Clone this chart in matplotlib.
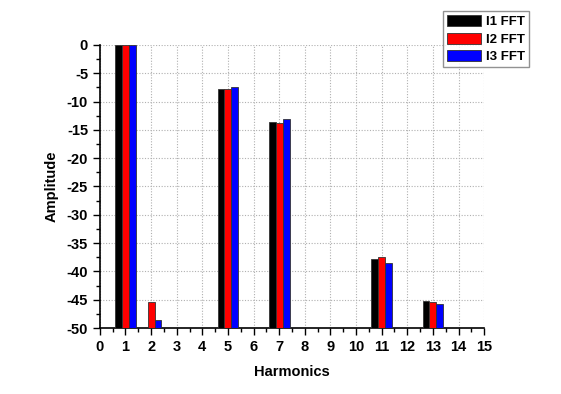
import numpy as np
import matplotlib
matplotlib.use('Agg')
import matplotlib.pyplot as plt
from matplotlib.ticker import MultipleLocator

plt.rcParams['font.family'] = ['Liberation Sans', 'DejaVu Sans']
plt.rcParams['font.weight'] = 'bold'
plt.rcParams['axes.unicode_minus'] = False

harmonics = [1, 2, 5, 7, 11, 13]
i1_fft = [0.0, -50.0, -7.7, -13.7, -37.9, -45.3]
i2_fft = [0.0, -45.4, -7.8, -13.8, -37.5, -45.4]
i3_fft = [0.0, -48.6, -7.5, -13.1, -38.5, -45.7]
labels = ['I1 FFT', 'I2 FFT', 'I3 FFT']
colors = ['black', 'red', 'blue']

base = -50
w = 0.27

fig = plt.figure(figsize=(5.61, 3.94), dpi=100)
ax = fig.add_axes([0.178, 0.1675, 0.685, 0.7185])

x = np.array(harmonics, dtype=float)
for k, (vals, lab, c) in enumerate(zip([i1_fft, i2_fft, i3_fft], labels, colors)):
    v = np.array(vals)
    ax.bar(x + (k - 1) * w, v - base, bottom=base, width=w, color=c,
           edgecolor='#333333', linewidth=0.6, label=lab, zorder=3)

ax.set_xlim(0, 15)
ax.set_ylim(-50, 0)
ax.xaxis.set_major_locator(MultipleLocator(1))
ax.xaxis.set_minor_locator(MultipleLocator(0.5))
ax.yaxis.set_major_locator(MultipleLocator(5))
ax.yaxis.set_minor_locator(MultipleLocator(2.5))
ax.tick_params(which='major', direction='out', length=5, width=1, labelsize=10.5)
ax.tick_params(which='minor', direction='out', length=3, width=1)
for lbl in ax.get_xticklabels() + ax.get_yticklabels():
    lbl.set_fontweight('bold')

ax.grid(True, which='major', color='#b0b0b0', linestyle=(0, (1, 1.5)), linewidth=0.8, zorder=0)
ax.spines['top'].set_visible(False)
ax.spines['right'].set_visible(False)
ax.spines['left'].set_linewidth(1.2)
ax.spines['bottom'].set_linewidth(1.2)

ax.set_xlabel('Harmonics', fontsize=10.5, fontweight='bold', labelpad=8)
ax.set_ylabel('Amplitude', fontsize=10.5, fontweight='bold', labelpad=6)

leg = ax.legend(loc='upper left', bbox_to_anchor=(0.892, 1.12), fontsize=9.5,
                frameon=True, fancybox=False, edgecolor='#777777',
                handlelength=2.6, handleheight=0.9, handletextpad=0.4,
                borderpad=0.3, labelspacing=0.35, borderaxespad=0)
leg.get_frame().set_linewidth(1.0)
for t in leg.get_texts():
    t.set_fontweight('bold')

fig.savefig('out.png', dpi=100)
